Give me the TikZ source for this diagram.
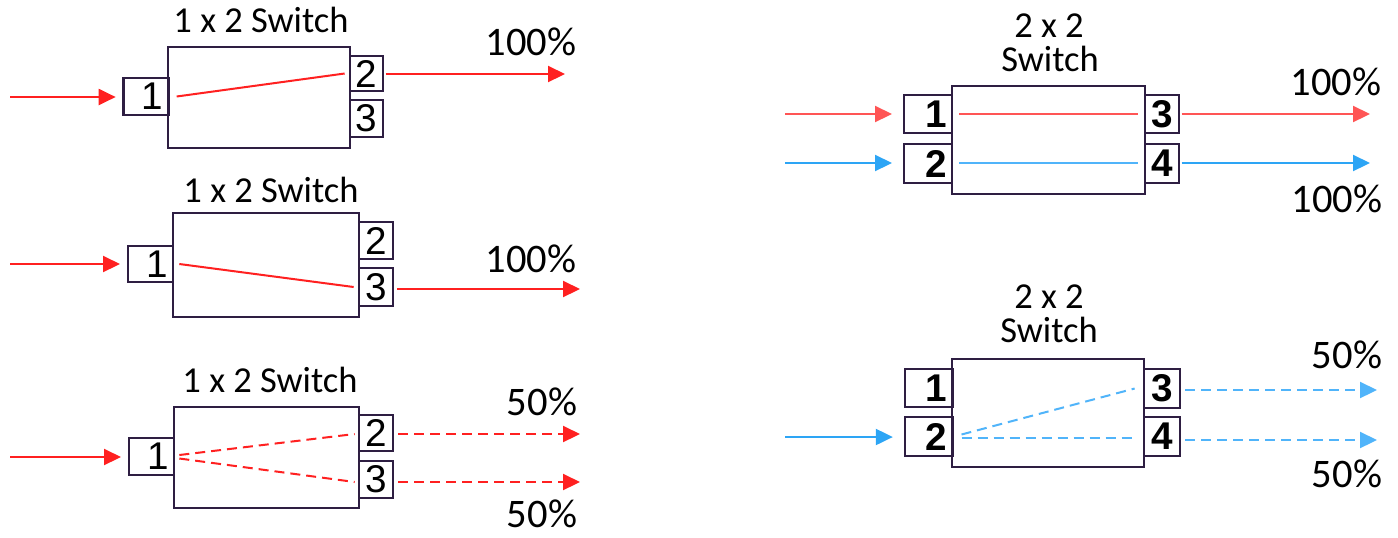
\documentclass[tikz,border=0pt]{standalone}
\usepackage{fontspec}
\setmainfont{Carlito}
\newfontfamily\portfont{Liberation Sans}
\usetikzlibrary{arrows.meta,calc}
\definecolor{rd}{RGB}{255,32,32}
\definecolor{lrd}{RGB}{255,85,85}
\definecolor{bl}{RGB}{45,165,245}
\definecolor{lbl}{RGB}{80,180,250}
\definecolor{bd}{RGB}{46,30,66}
\tikzset{
  sw/.style={draw=bd, line width=2pt, fill=white, rectangle, inner sep=0pt},
  pt/.style={sw, font=\portfont\fontsize{29}{29}\selectfont},
  ptb/.style={sw, font=\portfont\bfseries\fontsize{29}{29}\selectfont},
  inR/.style={text width=26pt, align=right, inner xsep=3.75pt},
  inRR/.style={text width=28pt, align=right, inner xsep=3.75pt},
  ttl/.style={font=\fontsize{27.4}{27.4}\selectfont, anchor=base, inner sep=0pt},
  pct/.style={font=\fontsize{30.4}{30.4}\selectfont, anchor=base, inner sep=0pt},
  arr/.style={line width=1.6pt, -{Triangle[length=12.75pt,width=12pt]}},
  ln/.style={line width=1.5pt},
  dsh/.style={dash pattern=on 7.5pt off 4.5pt},
}
\newcommand\bx[7]{\node[#6, minimum width={(#4-#2)*0.75pt}, minimum height={(#5-#3)*0.75pt}] (#1) at ({(#2+#4)/2},{(#3+#5)/2}) {#7};}
\begin{document}
\begin{tikzpicture}[x=0.75pt,y=-0.75pt]
\useasboundingbox (0,0) rectangle (1398,537);

% ---------- Panel 1 ----------
\bx{m1}{168}{47}{350}{148}{sw}{}
\bx{a1}{124}{78}{168}{115}{pt,inR}{1}
\bx{a2}{350}{56}{383}{91}{pt}{2}
\bx{a3}{350}{100}{383}{137}{pt}{3}
\node[ttl] (t1) at (261,32) {1 x 2 Switch};
\node[pct] (q1) at (531,55) {100\%};
\coordinate (s1) at (10,97);
\coordinate (o1) at (565,74);
\draw[arr, rd, shorten >=5pt] (s1) -- (a1.west |- s1);
\draw[ln, rd] ($(a1.east)+(7,0)$) -- ($(a2.west)+(-4,0)$);
\draw[arr, rd, shorten <=1pt] (a2.east |- o1) -- (o1);

% ---------- Panel 2 ----------
\bx{m2}{173}{213}{359}{317}{sw}{}
\bx{b1}{128}{246}{173}{282}{pt,inR}{1}
\bx{b2}{359}{222}{393}{259}{pt}{2}
\bx{b3}{359}{268}{393}{306}{pt}{3}
\node[ttl] (t2) at (271,202) {1 x 2 Switch};
\node[pct] (q2) at (531,272) {100\%};
\coordinate (s2) at (10,264);
\coordinate (o2) at (580,289);
\draw[arr, rd, shorten >=5pt] (s2) -- (b1.west |- s2);
\draw[ln, rd] ($(b1.east)+(5,0)$) -- ($(b3.west)+(-4,0)$);
\draw[arr, rd, shorten <=2pt] (b3.east |- o2) -- (o2);

% ---------- Panel 3 ----------
\bx{m3}{174}{407}{359}{508}{sw}{}
\bx{c1}{129}{438}{174}{475}{pt,inR}{1}
\bx{c2}{359}{415}{393}{451}{pt}{2}
\bx{c3}{359}{461}{393}{498}{pt}{3}
\node[ttl] (t3) at (270,392) {1 x 2 Switch};
\node[pct] (q3) at (542,415) {50\%};
\node[pct] (q4) at (542,527) {50\%};
\coordinate (s3) at (10,457);
\coordinate (o3) at (580,434);
\coordinate (o4) at (580,482);
\draw[arr, rd, shorten >=5pt] (s3) -- (c1.west |- s3);
\draw[ln, rd, dsh] ($(c1.east)+(4,-1.5)$) -- ($(c2.west)+(-3,1)$);
\draw[ln, rd, dsh] ($(c1.east)+(4,2)$) -- ($(c3.west)+(-3,2.5)$);
\draw[arr, rd, dsh, shorten <=3pt] (c2.east |- o3) -- (o3);
\draw[arr, rd, dsh, shorten <=3pt] (c3.east |- o4) -- (o4);

% ---------- Panel 4 ----------
\bx{m4}{952}{86}{1145}{194}{sw}{}
\bx{d1}{904}{95}{952}{133}{ptb,inRR}{1}
\bx{d2}{904}{144}{952}{183}{ptb,inRR}{2}
\bx{d3}{1145}{95}{1179}{133}{ptb}{3}
\bx{d4}{1145}{144}{1179}{183}{ptb}{4}
\node[ttl] (t4a) at (1049,37) {2 x 2};
\node[ttl] (t4b) at (1050,71) {Switch};
\node[pct] (q5) at (1336,95) {100\%};
\node[pct] (q6) at (1337,212) {100\%};
\coordinate (s4) at (785,114);
\coordinate (s5) at (785,163);
\coordinate (o5) at (1370,114);
\coordinate (o6) at (1370,163);
\draw[arr, lrd, shorten >=8pt] (s4) -- (d1.west |- s4);
\draw[arr, bl, shorten >=8pt] (s5) -- (d2.west |- s5);
\draw[ln, lrd] ($(d1.east)+(6,0)$) -- ($(d3.west)+(-6,0)$);
\draw[ln, lbl] ($(d2.east)+(6,-0.5)$) -- ($(d4.west)+(-6,-0.5)$);
\draw[arr, lrd, shorten <=1pt] (d3.east |- o5) -- (o5);
\draw[arr, bl, shorten <=1pt] (d4.east |- o6) -- (o6);

% ---------- Panel 5 ----------
\bx{m5}{952}{359}{1144}{467}{sw}{}
\bx{e1}{905}{369}{952}{407}{ptb,inRR}{1}
\bx{e2}{905}{417}{952}{456}{ptb,inRR}{2}
\bx{e3}{1144}{369}{1180}{408}{ptb}{3}
\bx{e4}{1144}{417}{1180}{456}{ptb}{4}
\node[ttl] (t5a) at (1049,308) {2 x 2};
\node[ttl] (t5b) at (1049,342) {Switch};
\node[pct] (q7) at (1347,368) {50\%};
\node[pct] (q8) at (1347,487) {50\%};
\coordinate (s6) at (785,437);
\coordinate (o7) at (1377,390);
\coordinate (o8) at (1377,440);
\draw[arr, bl, shorten >=8pt] (s6) -- (e2.west |- s6);
\draw[ln, lbl, dsh] ($(e2.east)+(8,-2)$) -- ($(e3.west)+(-8,0)$);
\draw[ln, lbl, dsh] ($(e2.east)+(8,1.5)$) -- ($(e4.west)+(-8,1.5)$);
\draw[arr, lbl, dsh, shorten <=3pt] (e3.east |- o7) -- (o7);
\draw[arr, lbl, dsh, shorten <=3pt] (e4.east |- o8) -- (o8);
\end{tikzpicture}
\end{document}
